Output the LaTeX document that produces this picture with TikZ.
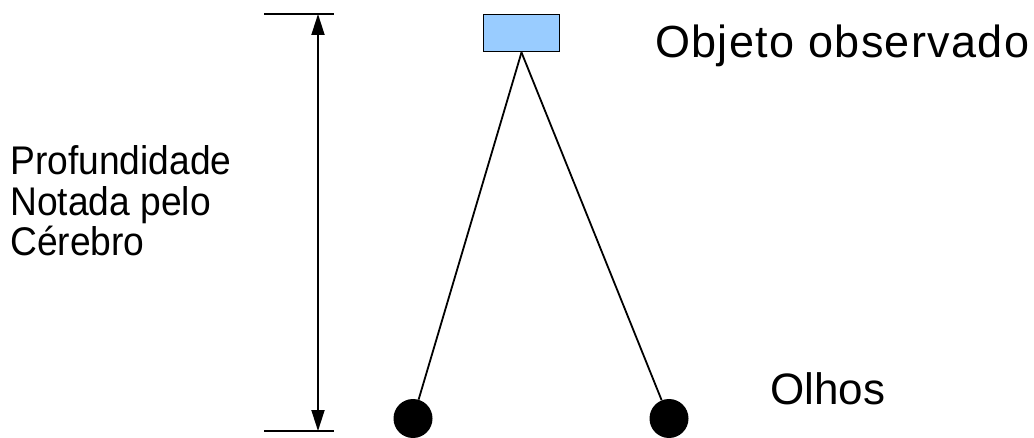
\documentclass[tikz,border=0pt]{standalone}
\usepackage{fontspec}
\setmainfont{Liberation Sans}
\newfontfamily\labelfont[LetterSpace=3]{Liberation Sans}
\newfontfamily\sidefont[FakeStretch=0.93]{Liberation Sans}
\usetikzlibrary{arrows.meta}
\definecolor{objblue}{RGB}{153,204,255}
\tikzset{
  thin line/.style={line width=1.8pt, black},
  eye/.style={circle, fill=black, minimum size=39pt, inner sep=0pt},
  object/.style={draw=black, line width=1.8pt, fill=objblue, minimum width=76pt, minimum height=37pt, inner sep=0pt},
  label/.style={inner sep=0pt, anchor=base west},
  dim arrow/.style={thin line, {Triangle[length=21pt,width=13pt]}-{Triangle[length=21pt,width=13pt]}}
}
\begin{document}
\begin{tikzpicture}[x=1pt,y=-1pt]
  \useasboundingbox (0,0) rectangle (1034,438);
  % observed object and the two eyes
  \node[object] (obj) at (521.5,33) {};
  \node[eye] (eyeL) at (413,418.5) {};
  \node[eye] (eyeR) at (669,418.5) {};
  % lines of sight
  \draw[thin line] (obj.south) -- (eyeL);
  \draw[thin line] (obj.south) -- (eyeR);
  % depth dimension with its end marks
  \coordinate (tl) at (264,14);
  \coordinate (tr) at (334,14);
  \coordinate (bl) at (264,431);
  \coordinate (br) at (334,431);
  \coordinate (top) at (318,14);
  \coordinate (bot) at (318,431);
  \draw[thin line] (tl) -- (tr);
  \draw[thin line] (bl) -- (br);
  \draw[dim arrow] (top) -- (bot);
  % labels (the side label's base is its last line)
  \node[label, font={\labelfont\fontsize{45}{52}\selectfont}] (lobj) at (655,58) {Objeto observado};
  \node[label, font={\fontsize{44}{52}\selectfont}] (leyes) at (770,405) {Olhos};
  \node[label, font={\sidefont\fontsize{40}{40.5}\selectfont}, align=left] (ldepth) at (10,256)
    {Profundidade\\Notada pelo\\Cérebro};
\end{tikzpicture}
\end{document}
